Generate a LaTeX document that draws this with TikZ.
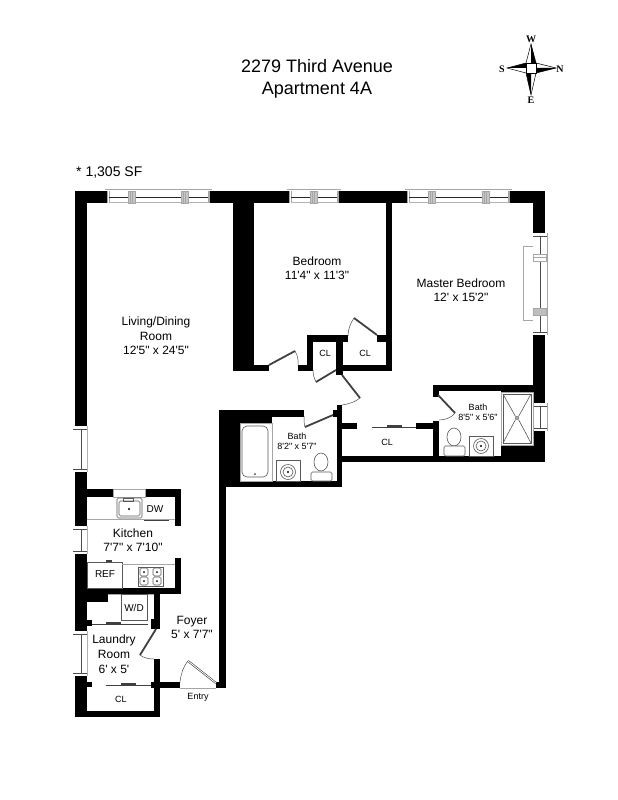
\documentclass[tikz,border=0pt]{standalone}
\usepackage{fontspec}
\newfontfamily\lab{Liberation Sans}
\newfontfamily\cmp{Liberation Serif}
\newcommand{\Wl}[4]{\fill[black] (#1,#2) rectangle (#3,#4);}
\newcommand{\HWin}[2]{% horizontal window, top wall
  \fill[white] (#1,189) rectangle (#2,203);
  \draw[winline] (#1-2,189.5) -- (#2+3,189.5);
  \draw[winline] (#1,191) -- (#1,203) (#1+2,191) -- (#1+2,203) (#2-1,191) -- (#2-1,203) (#2,191) -- (#2,203);
  \draw[gray!60,line width=1pt] (#1+2,202.5) -- (#2-1,202.5);
  \draw[black!85,line width=.9pt] (#1+2,197) -- (#2-1,197);
}
\newcommand{\HMul}[1]{\fill[white] (#1,191) rectangle (#1+7,203);\draw[winline,fill=gray!45] (#1,191) rectangle (#1+7,203); \draw[winline] (#1+2.3,191) -- (#1+2.3,203) (#1+4.7,191) -- (#1+4.7,203);}
\newcommand{\VWin}[5]{% x-inner, y1, y2, x-outer, x-mid
  \fill[white] (#1,#2) rectangle (#4,#3);
  \draw[winline] (#4,#2) -- (#4,#3);
  \draw[black!70,line width=.7pt] (#1,#2+3) -- (#4,#2+3) (#1,#3-3) -- (#4,#3-3);
  \draw[black!70,line width=1pt] (#5,#2+3) -- (#5,#3-3);
}
\newcommand{\Sink}[2]{\draw[fix] (#1,#2) circle (7.5); \draw[fix] (#1,#2) circle (5); \fill[black] (#1,#2) circle (1.2);}
\newcommand{\Burner}[2]{\draw[fix,rounded corners=1.5pt] (#1-4,#2-4) rectangle (#1+4,#2+4); \fill[black] (#1,#2) circle (1);}
\tikzset{
  x=1pt,y=-1pt,
  winline/.style={draw=gray!70,line width=.6pt},
  fix/.style={draw=black!65,line width=.6pt},
  doorleaf/.style={draw=gray!50!black,line width=1.8pt},
  swing/.style={draw=black!70,line width=.5pt},
  slide/.style={draw=black!75,line width=.8pt},
  slidep/.style={draw=gray!50!black,line width=1.5pt},
  room/.style={inner sep=0pt,align=center,font=\lab\fontsize{12}{14}\selectfont},
  small/.style={inner sep=0pt,align=center,font=\lab\fontsize{9}{11}\selectfont},
  compass/.style={inner sep=0pt,font=\cmp\bfseries\fontsize{10}{12}\selectfont},
}
\begin{document}
\begin{tikzpicture}
\useasboundingbox (0,0) rectangle (618,800);
\fill[white] (0,0) rectangle (618,800);
% ---------- texts top
\node[inner sep=0pt,anchor=base,font=\lab\fontsize{18}{20}\selectfont] (t1) at (317,73) {2279 Third Avenue};
\node[inner sep=0pt,anchor=base,font=\lab\fontsize{18}{20}\selectfont] (t2) at (317,94) {Apartment 4A};
\node[inner sep=0pt,anchor=west,font=\lab\fontsize{14}{16}\selectfont] (sf) at (76,173) {* 1,305 SF};
% ---------- compass
\fill[white] (526,63) rectangle (536,73);
\draw[black,line width=.5pt,fill=white] (531,44) -- (536,63) -- (556,68) -- (536,73) -- (531,95) -- (526,73) -- (507,68) -- (526,63) -- cycle;
\fill[black] (531,44) -- (536,63) -- (531,63) -- cycle;
\fill[black] (556,68) -- (536,73) -- (536,68) -- cycle;
\fill[black] (531,95) -- (526,73) -- (531,73) -- cycle;
\fill[black] (507,68) -- (526,63) -- (526,68) -- cycle;
\draw[black,line width=.6pt,fill=white] (526,63) rectangle (536,73);
\node[compass] (cw) at (531,39) {W};
\node[compass] (ce) at (531,100) {E};
\node[compass] (cs) at (502,69) {S};
\node[compass] (cn) at (560,69) {N};
% ---------- outer & main walls
\Wl{75}{191}{87}{717}
\Wl{75}{191}{545}{203}
\Wl{533}{191}{545}{462}
\Wl{233}{191}{254}{371}
\Wl{254}{365}{269}{371}
\Wl{298}{365}{313}{371}
\Wl{307}{335}{313}{371}
\Wl{307}{335}{348}{342}
\Wl{377}{335}{392}{342}
\Wl{386}{191}{392}{371}
\Wl{336}{335}{343}{375}
\Wl{336}{365}{392}{371}
% master bath
\Wl{433}{385}{533}{391}
\Wl{433}{385}{439}{397}
\Wl{433}{421}{439}{462}
\Wl{342}{456}{545}{462}
\Wl{501}{391}{545}{462}
\Wl{416}{423}{439}{429}
\Wl{342}{423}{357}{429}
% hall bath
\Wl{337}{405}{342}{487}
\Wl{333}{410}{342}{417}
\Wl{219}{410}{304}{417}
\Wl{219}{410}{240}{487}
\Wl{219}{481}{342}{487}
\Wl{219}{410}{226}{688}
\Wl{240}{417}{272}{423}
\Wl{216}{682}{226}{688}
% kitchen
\Wl{87}{489}{113}{497}
\Wl{145}{489}{181}{497}
\Wl{175}{489}{181}{526}
\Wl{175}{558}{181}{594}
\Wl{87}{588}{181}{594}
% laundry
\Wl{87}{594}{108}{602}
\Wl{154}{594}{160}{629}
\Wl{151}{619}{160}{629}
\Wl{87}{620}{92}{626}
\Wl{154}{659}{160}{717}
\Wl{151}{682}{180}{688}
\Wl{87}{682}{92}{687}
\Wl{75}{711}{160}{717}
% ---------- windows
\HWin{107}{209} \HMul{128} \HMul{181}
\HWin{289}{338} \HMul{310}
\HWin{407}{509} \HMul{428} \HMul{482}
% right big window
\VWin{533}{233}{335}{547}{540}
\fill[white] (533,254) rectangle (546,261); \draw[winline] (533,254) rectangle (546,261); \draw[winline] (533,257.5) -- (546,257.5);
\draw[winline,fill=gray!50] (533,308) rectangle (546,315);
\draw[winline] (533,246) -- (523,246) -- (523,320) -- (533,320);
% right small window
\VWin{533}{403}{431}{547}{540}
% left windows
\VWin{73}{426}{472}{87}{81}
\VWin{73}{526}{554}{87}{81}
\VWin{73}{631}{676}{87}{81}
\draw[gray!60,line width=1pt] (87,426) -- (87,472) (87,526) -- (87,554) (87,631) -- (87,676);
% kitchen pass-through
\fill[white] (113,489) rectangle (145,497);
\draw[winline] (113,489) rectangle (145,497);
% ---------- doors
% bedroom
\draw[doorleaf] (269,365) -- (295,351);
\draw[swing] (295,351) .. controls (298,356) and (298.5,361) .. (298,366);
% CL left
\draw[doorleaf] (336,370) -- (316,382);
\draw[swing] (316,382) .. controls (314,378) and (313,374) .. (313,370);
% CL right
\draw[doorleaf] (377,335) -- (354,318);
\draw[swing] (354,318) .. controls (350,324) and (348,330) .. (348,336);
% corridor
\draw[doorleaf] (342,375) -- (360,398);
\draw[swing] (360,398) .. controls (355,402) and (349,404) .. (342,405);
% hall bath
\draw[doorleaf] (333,415) -- (305,427);
\draw[swing] (305,427) .. controls (304,424) and (304,420) .. (304,416);
% master bath
\draw[doorleaf] (438,395) -- (455,413);
\draw[swing] (455,413) .. controls (451,418) and (445,420) .. (439,420);
% laundry
\draw[doorleaf] (156,629) -- (140,655);
\draw[swing] (140,655) .. controls (144,658) and (149,659) .. (154,659);
% entry
\draw[draw=gray!50!black,line width=2pt] (216,683) -- (188,661);
\draw[white,line width=.8pt] (216,683) -- (188,661);
\draw[swing] (188,661) .. controls (183,667) and (181,674) .. (180,682);
\draw[winline] (180,688) -- (216,688);
% ---------- sliding doors
\draw[slide] (372,427) -- (416,427);
\draw[slidep] (387,426) -- (402,426);
\draw[slide] (92,624) -- (148,624);
\draw[slidep] (106,623) -- (121,623);
\draw[slide] (106,685) -- (151,685);
\draw[slidep] (121,684) -- (136,684);
% ---------- kitchen fixtures
\draw[winline] (87,519) -- (175,519);
\draw[fix,rounded corners=1.5pt] (117,498) rectangle (142,518);
\draw[fix,rounded corners=1.5pt] (119,501) rectangle (140,516);
\draw[fix] (123,498) rectangle (133,501);
\fill[black] (129,509) circle (1.2);
\draw[slide] (144,520) -- (169,520);
\draw[slidep] (152,520.5) -- (164,520.5);
\draw[fix] (87,562) rectangle (122,588);
\draw[slidep] (106,561) -- (112,561);
\draw[winline] (122,564) -- (175,564);
\draw[fix] (138,567) rectangle (163,586);
\Burner{144}{572}\Burner{157}{572}\Burner{144}{581}\Burner{157}{581}
% W/D
\draw[winline] (108,594) -- (154,594);
\draw[fix] (121,594) rectangle (147,620);
% ---------- hall bath fixtures
\draw[winline] (240,423) rectangle (272,481);
\draw[fix,rounded corners=5pt] (242,426) rectangle (268,477);
\fill[black!75] (255,474) circle (1);
\draw[fix] (276,460) rectangle (300,481);
\Sink{288}{472}
\draw[fix,fill=white] (321,462) ellipse (7 and 9);
\draw[fix,rounded corners=1.5pt,fill=white] (311,472) rectangle (332,481);
% ---------- master bath fixtures
\fill[white] (501,392) rectangle (533,445);
\draw[winline] (501,392) rectangle (533,445);
\draw[fix] (503,394) rectangle (531,443);
\draw[fix] (503,394) -- (515.5,416.5) (531,394) -- (518.5,416.5) (503,443) -- (515.5,419.5) (531,443) -- (518.5,419.5);
\draw[fix] (517,418) circle (1.6);
\draw[fix] (469,436) rectangle (493,456);
\Sink{481}{446}
\draw[fix,fill=white] (454,437) ellipse (7 and 9);
\draw[fix,rounded corners=1.5pt,fill=white] (444,446) rectangle (465,456);
% ---------- labels
\node[room] (living) at (156,336) {Living/Dining\\[.4pt]Room\\[.4pt]12'5" x 24'5"};
\node[room] (bedroom) at (317,268.5) {Bedroom\\[.4pt]11'4" x 11'3"};
\node[room] (master) at (461,290) {Master Bedroom\\[.4pt]12' x 15'2"};
\node[small] (cl1) at (325,353) {CL};
\node[small] (cl2) at (365,353) {CL};
\node[small] (cl3) at (387,442) {CL};
\node[small] (bath1) at (478,412.5) {Bath\\[-.5pt]8'5" x 5'6"};
\node[small] (bath2) at (297,441.5) {Bath\\[-.5pt]8'2" x 5'7"};
\node[room] (kitchen) at (133,540) {Kitchen\\[.4pt]7'7" x 7'10"};
\node[small,font=\lab\fontsize{10}{12}\selectfont] (dw) at (155,509) {DW};
\node[small,font=\lab\fontsize{10}{12}\selectfont] (ref) at (105,574) {REF};
\node[small,font=\lab\fontsize{10}{12}\selectfont] (wd) at (134,608) {W/D};
\node[room] (foyer) at (192,627.5) {Foyer\\[.4pt]5' x 7'7"};
\node[room] (laundry) at (114,654) {Laundry\\[1.2pt]Room\\[1.2pt]6' x 5'};
\node[small] (cl4) at (121,699) {CL};
\node[small] (entry) at (198,697) {Entry};
\end{tikzpicture}
\end{document}
